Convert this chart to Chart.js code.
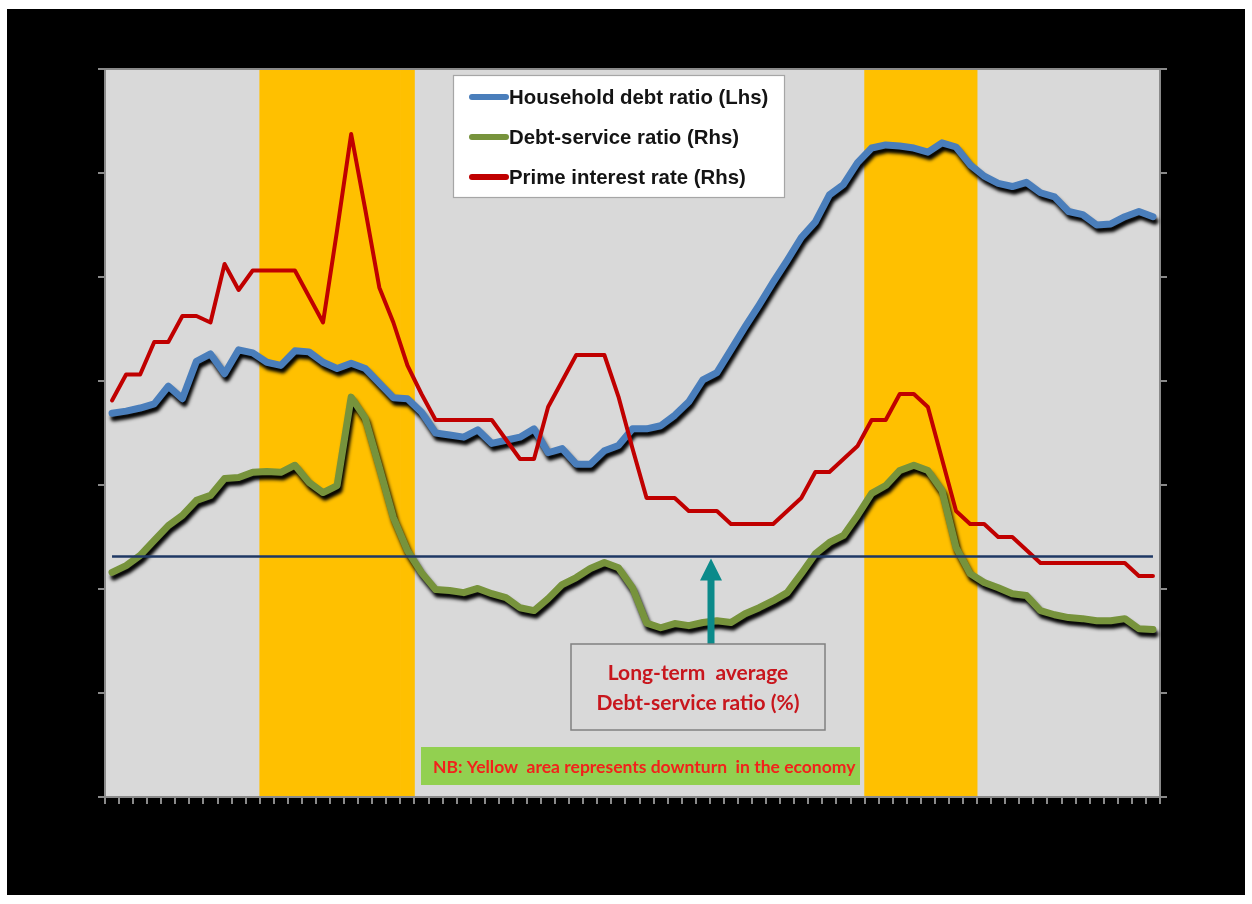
<!DOCTYPE html>
<html>
<head>
<meta charset="utf-8">
<title>Household debt, debt-service ratio and prime rate</title>
<script src="https://cdn.jsdelivr.net/npm/chart.js@4.4.1/dist/chart.umd.min.js"></script>
<style>
  html, body { margin: 0; padding: 0; background: #ffffff; }
  canvas { display: block; }
</style>
</head>
<body>
<canvas id="chart" width="1252" height="904"></canvas>
<script>
// Quarterly categories
const quarters = [
  '1994Q2','1994Q3','1994Q4',
  '1995Q1','1995Q2','1995Q3','1995Q4',
  '1996Q1','1996Q2','1996Q3','1996Q4',
  '1997Q1','1997Q2','1997Q3','1997Q4',
  '1998Q1','1998Q2','1998Q3','1998Q4',
  '1999Q1','1999Q2','1999Q3','1999Q4',
  '2000Q1','2000Q2','2000Q3','2000Q4',
  '2001Q1','2001Q2','2001Q3','2001Q4',
  '2002Q1','2002Q2','2002Q3','2002Q4',
  '2003Q1','2003Q2','2003Q3','2003Q4',
  '2004Q1','2004Q2','2004Q3','2004Q4',
  '2005Q1','2005Q2','2005Q3','2005Q4',
  '2006Q1','2006Q2','2006Q3','2006Q4',
  '2007Q1','2007Q2','2007Q3','2007Q4',
  '2008Q1','2008Q2','2008Q3','2008Q4',
  '2009Q1','2009Q2','2009Q3','2009Q4',
  '2010Q1','2010Q2','2010Q3','2010Q4',
  '2011Q1','2011Q2','2011Q3','2011Q4',
  '2012Q1','2012Q2','2012Q3','2012Q4'
];

// Household debt to disposable income, % (left axis)
const householdDebt = [
  56.9, 57.1, 57.4, 57.8, 59.5, 58.3, 61.9, 62.6, 60.7, 63.0,
  62.7, 61.8, 61.5, 62.9, 62.8, 61.8, 61.2, 61.7, 61.2, 59.8,
  58.4, 58.3, 57.0, 55.0, 54.8, 54.6, 55.3, 54.0, 54.3, 54.6,
  55.4, 53.1, 53.5, 52.0, 52.0, 53.3, 53.8, 55.4, 55.4, 55.7,
  56.7, 58.0, 60.1, 60.8, 63.0, 65.2, 67.3, 69.5, 71.6, 73.8,
  75.3, 77.9, 78.9, 81.0, 82.4, 82.7, 82.6, 82.4, 82.0, 82.9,
  82.5, 80.8, 79.7, 79.0, 78.7, 79.1, 78.1, 77.7, 76.3, 76.0,
  75.0, 75.1, 75.8, 76.3, 75.8
];

// Debt-service cost to disposable income, % (right axis)
const debtService = [
  8.64, 8.90, 9.29, 9.87, 10.44, 10.83, 11.41, 11.60, 12.25, 12.29,
  12.49, 12.52, 12.49, 12.76, 12.10, 11.71, 11.98, 15.38, 14.57, 12.68,
  10.75, 9.48, 8.63, 7.98, 7.94, 7.86, 8.02, 7.82, 7.67, 7.28,
  7.17, 7.63, 8.17, 8.44, 8.79, 9.02, 8.82, 8.05, 6.69, 6.51,
  6.67, 6.59, 6.71, 6.78, 6.71, 7.05, 7.28, 7.55, 7.86, 8.59,
  9.36, 9.79, 10.06, 10.83, 11.68, 11.98, 12.56, 12.76, 12.56, 11.79,
  9.60, 8.59, 8.25, 8.05, 7.82, 7.75, 7.17, 7.01, 6.90, 6.86,
  6.78, 6.78, 6.86, 6.47, 6.44
];

// Prime overdraft rate, % (right axis)
const primeRate = [
  15.25, 16.25, 16.25, 17.5, 17.5, 18.5, 18.5, 18.25, 20.5, 19.5,
  20.25, 20.25, 20.25, 20.25, 19.25, 18.25, 21.8, 25.5, 22.6, 19.6,
  18.25, 16.6, 15.5, 14.5, 14.5, 14.5, 14.5, 14.5, 13.75, 13.0,
  13.0, 15.0, 16.0, 17.0, 17.0, 17.0, 15.4, 13.4, 11.5, 11.5,
  11.5, 11.0, 11.0, 11.0, 10.5, 10.5, 10.5, 10.5, 11.0, 11.5,
  12.5, 12.5, 13.0, 13.5, 14.5, 14.5, 15.5, 15.5, 15.0, 13.0,
  11.0, 10.5, 10.5, 10.0, 10.0, 9.5, 9.0, 9.0, 9.0, 9.0,
  9.0, 9.0, 9.0, 8.5, 8.5
];

// Long-term average debt-service ratio, %
const dsrAverage = 9.25;

// Downturn phases of the business cycle (first and last quarter)
const downturns = [
  ['1997Q1', '1999Q3'],
  ['2007Q4', '2009Q3']
];

// Axis ranges
const leftAxis = { min: 20, max: 90, step: 10 };
const rightAxis = { min: 0, max: 28, step: 4 };

const downturnBars = quarters.map(q =>
  downturns.some(([a, b]) => q >= a && q <= b) ? 1 : null
);

const AXIS_GREY = '#8a8a8a';

const frame = {
  id: 'frame',
  beforeDraw(chart) {
    const { ctx, chartArea: a } = chart;
    ctx.save();
    ctx.fillStyle = '#ffffff';
    ctx.fillRect(0, 0, chart.width, chart.height);
    ctx.fillStyle = '#000000';
    ctx.fillRect(7, 9, 1238, 886);
    ctx.fillStyle = '#D9D9D9';
    ctx.fillRect(a.left, a.top, a.right - a.left, a.bottom - a.top);
    ctx.restore();
  },
  afterDatasetDraw(chart, args) {
    if (chart.data.datasets[args.index].type !== 'bar') return;
    const { ctx, chartArea: a } = chart;
    ctx.save();
    ctx.strokeStyle = AXIS_GREY;
    ctx.lineWidth = 2;
    ctx.strokeRect(a.left, a.top, a.right - a.left, a.bottom - a.top);
    ctx.restore();
  }
};

// Dark drop shadow under the two ratio lines
const lineShadow = {
  id: 'lineShadow',
  beforeDatasetDraw(chart, args) {
    const ds = chart.data.datasets[args.index];
    if (!ds.shadow) return;
    const ctx = chart.ctx;
    ctx.save();
    ctx.shadowColor = 'rgba(0,0,0,1)';
    ctx.shadowBlur = 3.5;
    ctx.shadowOffsetX = 2;
    ctx.shadowOffsetY = 4.5;
  },
  afterDatasetDraw(chart, args) {
    const ds = chart.data.datasets[args.index];
    if (!ds.shadow) return;
    chart.ctx.restore();
  }
};

const notes = {
  id: 'notes',
  afterDraw(chart) {
    const { ctx } = chart;
    const y2 = chart.scales.y2;
    ctx.save();

    // Legend
    ctx.fillStyle = '#ffffff';
    ctx.fillRect(453, 75, 332, 122);
    ctx.strokeStyle = '#a6a6a6';
    ctx.lineWidth = 1.2;
    ctx.strokeRect(453.5, 75.5, 331, 122);
    const legendItems = chart.data.datasets.filter(d => d.inLegend);
    const rows = [97, 137, 177];
    legendItems.forEach((d, i) => {
      const y = rows[i];
      ctx.strokeStyle = d.borderColor;
      ctx.lineWidth = 6;
      ctx.lineCap = 'round';
      ctx.beginPath();
      ctx.moveTo(472, y);
      ctx.lineTo(506, y);
      ctx.stroke();
      ctx.fillStyle = '#141414';
      ctx.font = "bold 20.4px 'Liberation Sans', Arial, sans-serif";
      ctx.textBaseline = 'middle';
      ctx.textAlign = 'left';
      ctx.fillText(d.label, 509, y + 1);
    });

    // Arrow pointing to the long-term average line
    const tipY = y2.getPixelForValue(dsrAverage) + 2;
    const ax = 711, baseY = 644;
    ctx.fillStyle = '#0b8a8a';
    ctx.fillRect(ax - 3.5, tipY + 20, 7, baseY - tipY - 20);
    ctx.beginPath();
    ctx.moveTo(ax, tipY);
    ctx.lineTo(ax + 11, tipY + 22);
    ctx.lineTo(ax - 11, tipY + 22);
    ctx.closePath();
    ctx.fill();

    // Callout box
    ctx.fillStyle = '#D9D9D9';
    ctx.fillRect(571, 644, 254, 86);
    ctx.strokeStyle = '#808080';
    ctx.lineWidth = 1.5;
    ctx.strokeRect(571, 644, 254, 86);
    ctx.fillStyle = '#C8161D';
    ctx.font = "bold 21px Lato, 'Liberation Sans', sans-serif";
    ctx.textAlign = 'center';
    ctx.textBaseline = 'middle';
    ctx.fillText('Long-term  average', 698, 673);
    ctx.fillText('Debt-service ratio (%)', 698, 703);

    // Note on shading
    ctx.fillStyle = '#92D050';
    ctx.fillRect(421, 747, 439, 38);
    ctx.fillStyle = '#F2221B';
    ctx.font = "bold 17.5px Lato, 'Liberation Sans', sans-serif";
    ctx.textAlign = 'left';
    ctx.fillText('NB: Yellow  area represents downturn  in the economy', 433, 767);

    ctx.restore();
  }
};

const axisGrid = {
  drawOnChartArea: false,
  drawTicks: true,
  tickLength: 7,
  color: AXIS_GREY,
  lineWidth: 2
};

new Chart(document.getElementById('chart'), {
  data: {
    labels: quarters,
    datasets: [
      {
        type: 'line',
        label: 'Household debt ratio (Lhs)',
        data: householdDebt,
        yAxisID: 'y',
        borderColor: '#4A7EBB',
        borderWidth: 7,
        pointRadius: 0,
        tension: 0,
        borderJoinStyle: 'round',
        borderCapStyle: 'round',
        shadow: true,
        inLegend: true,
        order: 3
      },
      {
        type: 'line',
        label: 'Debt-service ratio (Rhs)',
        data: debtService,
        yAxisID: 'y2',
        borderColor: '#77933C',
        borderWidth: 7,
        pointRadius: 0,
        tension: 0,
        borderJoinStyle: 'round',
        borderCapStyle: 'round',
        shadow: true,
        inLegend: true,
        order: 2
      },
      {
        type: 'line',
        label: 'Prime interest rate (Rhs)',
        data: primeRate,
        yAxisID: 'y2',
        borderColor: '#C00000',
        borderWidth: 4,
        pointRadius: 0,
        tension: 0,
        borderJoinStyle: 'round',
        borderCapStyle: 'round',
        inLegend: true,
        order: 1
      },
      {
        type: 'line',
        label: 'Long-term average',
        data: quarters.map(() => dsrAverage),
        yAxisID: 'y2',
        borderColor: '#1F3864',
        borderWidth: 2.5,
        pointRadius: 0,
        order: 0
      },
      {
        type: 'bar',
        label: 'Downturn',
        data: downturnBars,
        yAxisID: 'band',
        backgroundColor: '#FFC000',
        barPercentage: 1,
        categoryPercentage: 1,
        borderWidth: 0,
        order: 10
      }
    ]
  },
  options: {
    responsive: false,
    animation: false,
    events: [],
    layout: { padding: { top: 69, left: 0, right: 0, bottom: 0 } },
    plugins: {
      legend: { display: false },
      tooltip: { enabled: false }
    },
    scales: {
      x: {
        type: 'category',
        offset: true,
        grid: Object.assign({ offset: true }, axisGrid),
        border: { display: true, color: AXIS_GREY, width: 2 },
        ticks: {
          autoSkip: false,
          color: '#000000',
          font: { size: 9 },
          minRotation: 90,
          maxRotation: 90
        },
        afterFit(s) { s.height = 107; }
      },
      y: {
        position: 'left',
        min: leftAxis.min,
        max: leftAxis.max,
        ticks: { stepSize: leftAxis.step, color: '#000000' },
        grid: axisGrid,
        border: { display: true, color: AXIS_GREY, width: 2 },
        afterFit(s) { s.width = 105; }
      },
      y2: {
        position: 'right',
        min: rightAxis.min,
        max: rightAxis.max,
        ticks: { stepSize: rightAxis.step, color: '#000000' },
        grid: axisGrid,
        border: { display: true, color: AXIS_GREY, width: 2 },
        afterFit(s) { s.width = 92; }
      },
      band: {
        display: false,
        min: 0,
        max: 1
      }
    }
  },
  plugins: [frame, lineShadow, notes]
});
</script>
</body>
</html>
